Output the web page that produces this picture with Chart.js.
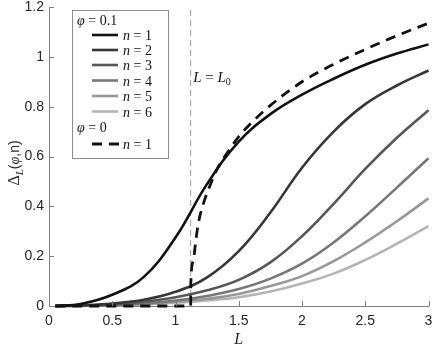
<!DOCTYPE html>
<html>
<head>
<meta charset="utf-8">
<script src="https://cdn.jsdelivr.net/npm/chart.js@4"></script>
<style>
  html, body { margin: 0; padding: 0; background: #fff; }
  canvas { display: block; }
</style>
</head>
<body>
<canvas id="chart" width="436" height="346"></canvas>
<script>
// values
const L = [0.05, 0.25, 0.5, 0.75, 1, 1.25, 1.5, 1.75, 2, 2.25, 2.5, 2.75, 3];
const phi01_n1 = [0, 0.008, 0.045, 0.117, 0.275, 0.49, 0.66, 0.77, 0.848, 0.912, 0.968, 1.013, 1.05];
const phi01_n2 = [0, 0.003, 0.01, 0.025, 0.057, 0.115, 0.22, 0.375, 0.555, 0.7, 0.81, 0.885, 0.945];
const phi01_n3 = [0, 0.002, 0.006, 0.017, 0.035, 0.063, 0.105, 0.175, 0.28, 0.41, 0.55, 0.675, 0.786];
const phi01_n4 = [0, 0.001, 0.004, 0.01, 0.022, 0.04, 0.068, 0.11, 0.17, 0.255, 0.36, 0.475, 0.593];
const phi01_n5 = [0, 0.001, 0.003, 0.008, 0.017, 0.029, 0.048, 0.08, 0.12, 0.18, 0.255, 0.34, 0.432];
const phi01_n6 = [0, 0.001, 0.002, 0.006, 0.013, 0.022, 0.035, 0.058, 0.09, 0.13, 0.185, 0.25, 0.321];

const L_phi0 = [0.05, 1.12, 1.121, 1.14, 1.16, 1.18, 1.22, 1.27, 1.33, 1.43, 1.5, 1.6, 1.75, 2, 2.25, 2.5, 2.75, 3];
const phi0_n1 = [0, 0, 0.09, 0.18, 0.26, 0.33, 0.41, 0.48, 0.55, 0.63, 0.68, 0.735, 0.805, 0.9, 0.97, 1.03, 1.085, 1.135];

const L0 = 1.12;
const yMax = 1.2;
const xTicks = [0, 0.5, 1, 1.5, 2, 2.5, 3];
const yTicks = [0, 0.2, 0.4, 0.6, 0.8, 1, 1.2];
const seriesNames = ["n = 1", "n = 2", "n = 3", "n = 4", "n = 5", "n = 6"];
const greys = ["#111111", "#363636", "#575757", "#777777", "#979797", "#b4b4b4"];

const sans = "'Liberation Sans', Arial, sans-serif";
const serif = "'Liberation Serif', 'DejaVu Serif', serif";
const axisColor = "#7f7f7f";
const textColor = "#262626";

const pts = (xs, ys) => xs.map((x, i) => ({x: x, y: ys[i]}));

const solid = [phi01_n1, phi01_n2, phi01_n3, phi01_n4, phi01_n5, phi01_n6].map((ys, i) => ({
    label: "φ=0.1 " + seriesNames[i],
    data: pts(L, ys),
    borderColor: greys[i],
    borderWidth: 2.6,
    pointRadius: 0,
    tension: 0.4,
    clip: 4
}));

const datasets = [
    {
        label: "φ=0 n = 1",
        data: pts(L_phi0, phi0_n1),
        borderColor: "#111111",
        borderWidth: 2.8,
        borderDash: [10, 7],
        pointRadius: 0,
        cubicInterpolationMode: "monotone",
        clip: 4
    },
    ...solid,
    {
        label: "L0",
        data: [{x: L0, y: 0}, {x: L0, y: yMax}],
        borderColor: "#9a9a9a",
        borderWidth: 1,
        borderDash: [6, 4],
        pointRadius: 0
    }
];

// draws pieces of mixed text one after another
function drawPieces(ctx, pieces, x, y) {
    let cx = x;
    for (const p of pieces) {
        ctx.font = p.font;
        ctx.fillText(p.t, cx, y + (p.dy || 0));
        cx += ctx.measureText(p.t).width;
    }
    return cx;
}
function piecesWidth(ctx, pieces) {
    let w = 0;
    for (const p of pieces) { ctx.font = p.font; w += ctx.measureText(p.t).width; }
    return w;
}

const extras = {
    id: "extras",
    afterDatasetsDraw(chart) {
        const ctx = chart.ctx;
        const xs = chart.scales.x, ys = chart.scales.y;
        const area = chart.chartArea;
        ctx.save();

        // inward tick marks
        ctx.strokeStyle = axisColor;
        ctx.lineWidth = 1;
        ctx.beginPath();
        for (const t of xTicks) {
            const px = Math.round(xs.getPixelForValue(t)) + 0.5;
            ctx.moveTo(px, area.bottom);
            ctx.lineTo(px, area.bottom - 5);
        }
        for (const t of yTicks) {
            const py = Math.round(ys.getPixelForValue(t)) + 0.5;
            ctx.moveTo(area.left, py);
            ctx.lineTo(area.left + 5, py);
        }
        ctx.stroke();

        ctx.fillStyle = "#111";
        ctx.textBaseline = "alphabetic";
        ctx.textAlign = "left";

        // L = L0 label
        const lx = xs.getPixelForValue(1.14), ly = ys.getPixelForValue(0.9);
        drawPieces(ctx, [
            {t: "L", font: "italic 15px " + serif},
            {t: " = ", font: "15px " + serif},
            {t: "L", font: "italic 15px " + serif},
            {t: "0", font: "10px " + serif, dy: 3}
        ], lx, ly);

        // x title
        const xt = [{t: "L", font: "italic 16px " + serif}];
        ctx.fillStyle = textColor;
        drawPieces(ctx, xt, (area.left + area.right) / 2 - piecesWidth(ctx, xt) / 2, 344);

        // y title
        const yt = [
            {t: "Δ", font: "16px " + serif},
            {t: "L", font: "italic 11px " + serif, dy: 4},
            {t: "(", font: "14px " + sans},
            {t: "φ", font: "italic 14px " + serif},
            {t: ",n)", font: "14px " + sans}
        ];
        ctx.save();
        ctx.translate(19, 163);
        ctx.rotate(-Math.PI / 2);
        drawPieces(ctx, yt, -piecesWidth(ctx, yt) / 2, 0);
        ctx.restore();

        // legend
        const bx = 72, by = 10, bw = 96, bh = 148;
        ctx.fillStyle = "#fff";
        ctx.fillRect(bx, by, bw, bh);
        ctx.strokeStyle = "#8c8c8c";
        ctx.lineWidth = 1;
        ctx.strokeRect(bx + 0.5, by + 0.5, bw, bh);
        ctx.fillStyle = "#111";
        const mathRow = (pieces, x, yc) => drawPieces(ctx, pieces, x, yc + 5);
        mathRow([{t: "φ", font: "italic 14px " + serif}, {t: " = 0.1", font: "14px " + serif}], 77, 20);
        const rowY = [35, 50, 65, 80.5, 96, 111.5];
        for (let i = 0; i < 6; i++) {
            ctx.strokeStyle = greys[i];
            ctx.lineWidth = 2.6;
            ctx.setLineDash([]);
            ctx.beginPath();
            ctx.moveTo(92, rowY[i]);
            ctx.lineTo(118, rowY[i]);
            ctx.stroke();
            ctx.fillStyle = "#111";
            mathRow([{t: "n", font: "italic 14px " + serif}, {t: " = " + (i + 1), font: "14px " + serif}], 123, rowY[i]);
        }
        mathRow([{t: "φ", font: "italic 14px " + serif}, {t: " = 0", font: "14px " + serif}], 77, 127);
        ctx.strokeStyle = "#111";
        ctx.lineWidth = 2.8;
        ctx.setLineDash([10, 7]);
        ctx.beginPath();
        ctx.moveTo(92, 144);
        ctx.lineTo(122, 144);
        ctx.stroke();
        ctx.setLineDash([]);
        mathRow([{t: "n", font: "italic 14px " + serif}, {t: " = 1", font: "14px " + serif}], 123, 144);

        ctx.restore();
    }
};

const config = {
    type: "line",
    data: {datasets: datasets},
    options: {
        responsive: false,
        animation: false,
        devicePixelRatio: 1,
        layout: {padding: {top: 7, right: 7.5, left: 0, bottom: 0}},
        plugins: {legend: {display: false}, tooltip: {enabled: false}},
        scales: {
            x: {
                type: "linear",
                min: 0,
                max: 3,
                afterBuildTicks: s => { s.ticks = xTicks.map(v => ({value: v})); },
                afterFit: s => { s.height = 40; s.paddingLeft = 0; s.paddingRight = 0; },
                grid: {display: true, drawOnChartArea: false, drawTicks: false},
                border: {display: true, color: axisColor, width: 1},
                ticks: {color: textColor, font: {family: sans, size: 14}, padding: 7, maxRotation: 0,
                        callback: v => String(v)}
            },
            y: {
                type: "linear",
                min: 0,
                max: yMax,
                afterBuildTicks: s => { s.ticks = yTicks.map(v => ({value: v})); },
                afterFit: s => { s.width = 49; s.paddingTop = 0; s.paddingBottom = 0; },
                grid: {display: true, drawOnChartArea: false, drawTicks: false},
                border: {display: true, color: axisColor, width: 1},
                ticks: {color: textColor, font: {family: sans, size: 14}, padding: 5,
                        callback: v => String(v)}
            }
        }
    },
    plugins: [extras]
};

document.addEventListener("DOMContentLoaded", function () {
    new Chart(document.querySelector("#chart"), config);
});
</script>
</body>
</html>
